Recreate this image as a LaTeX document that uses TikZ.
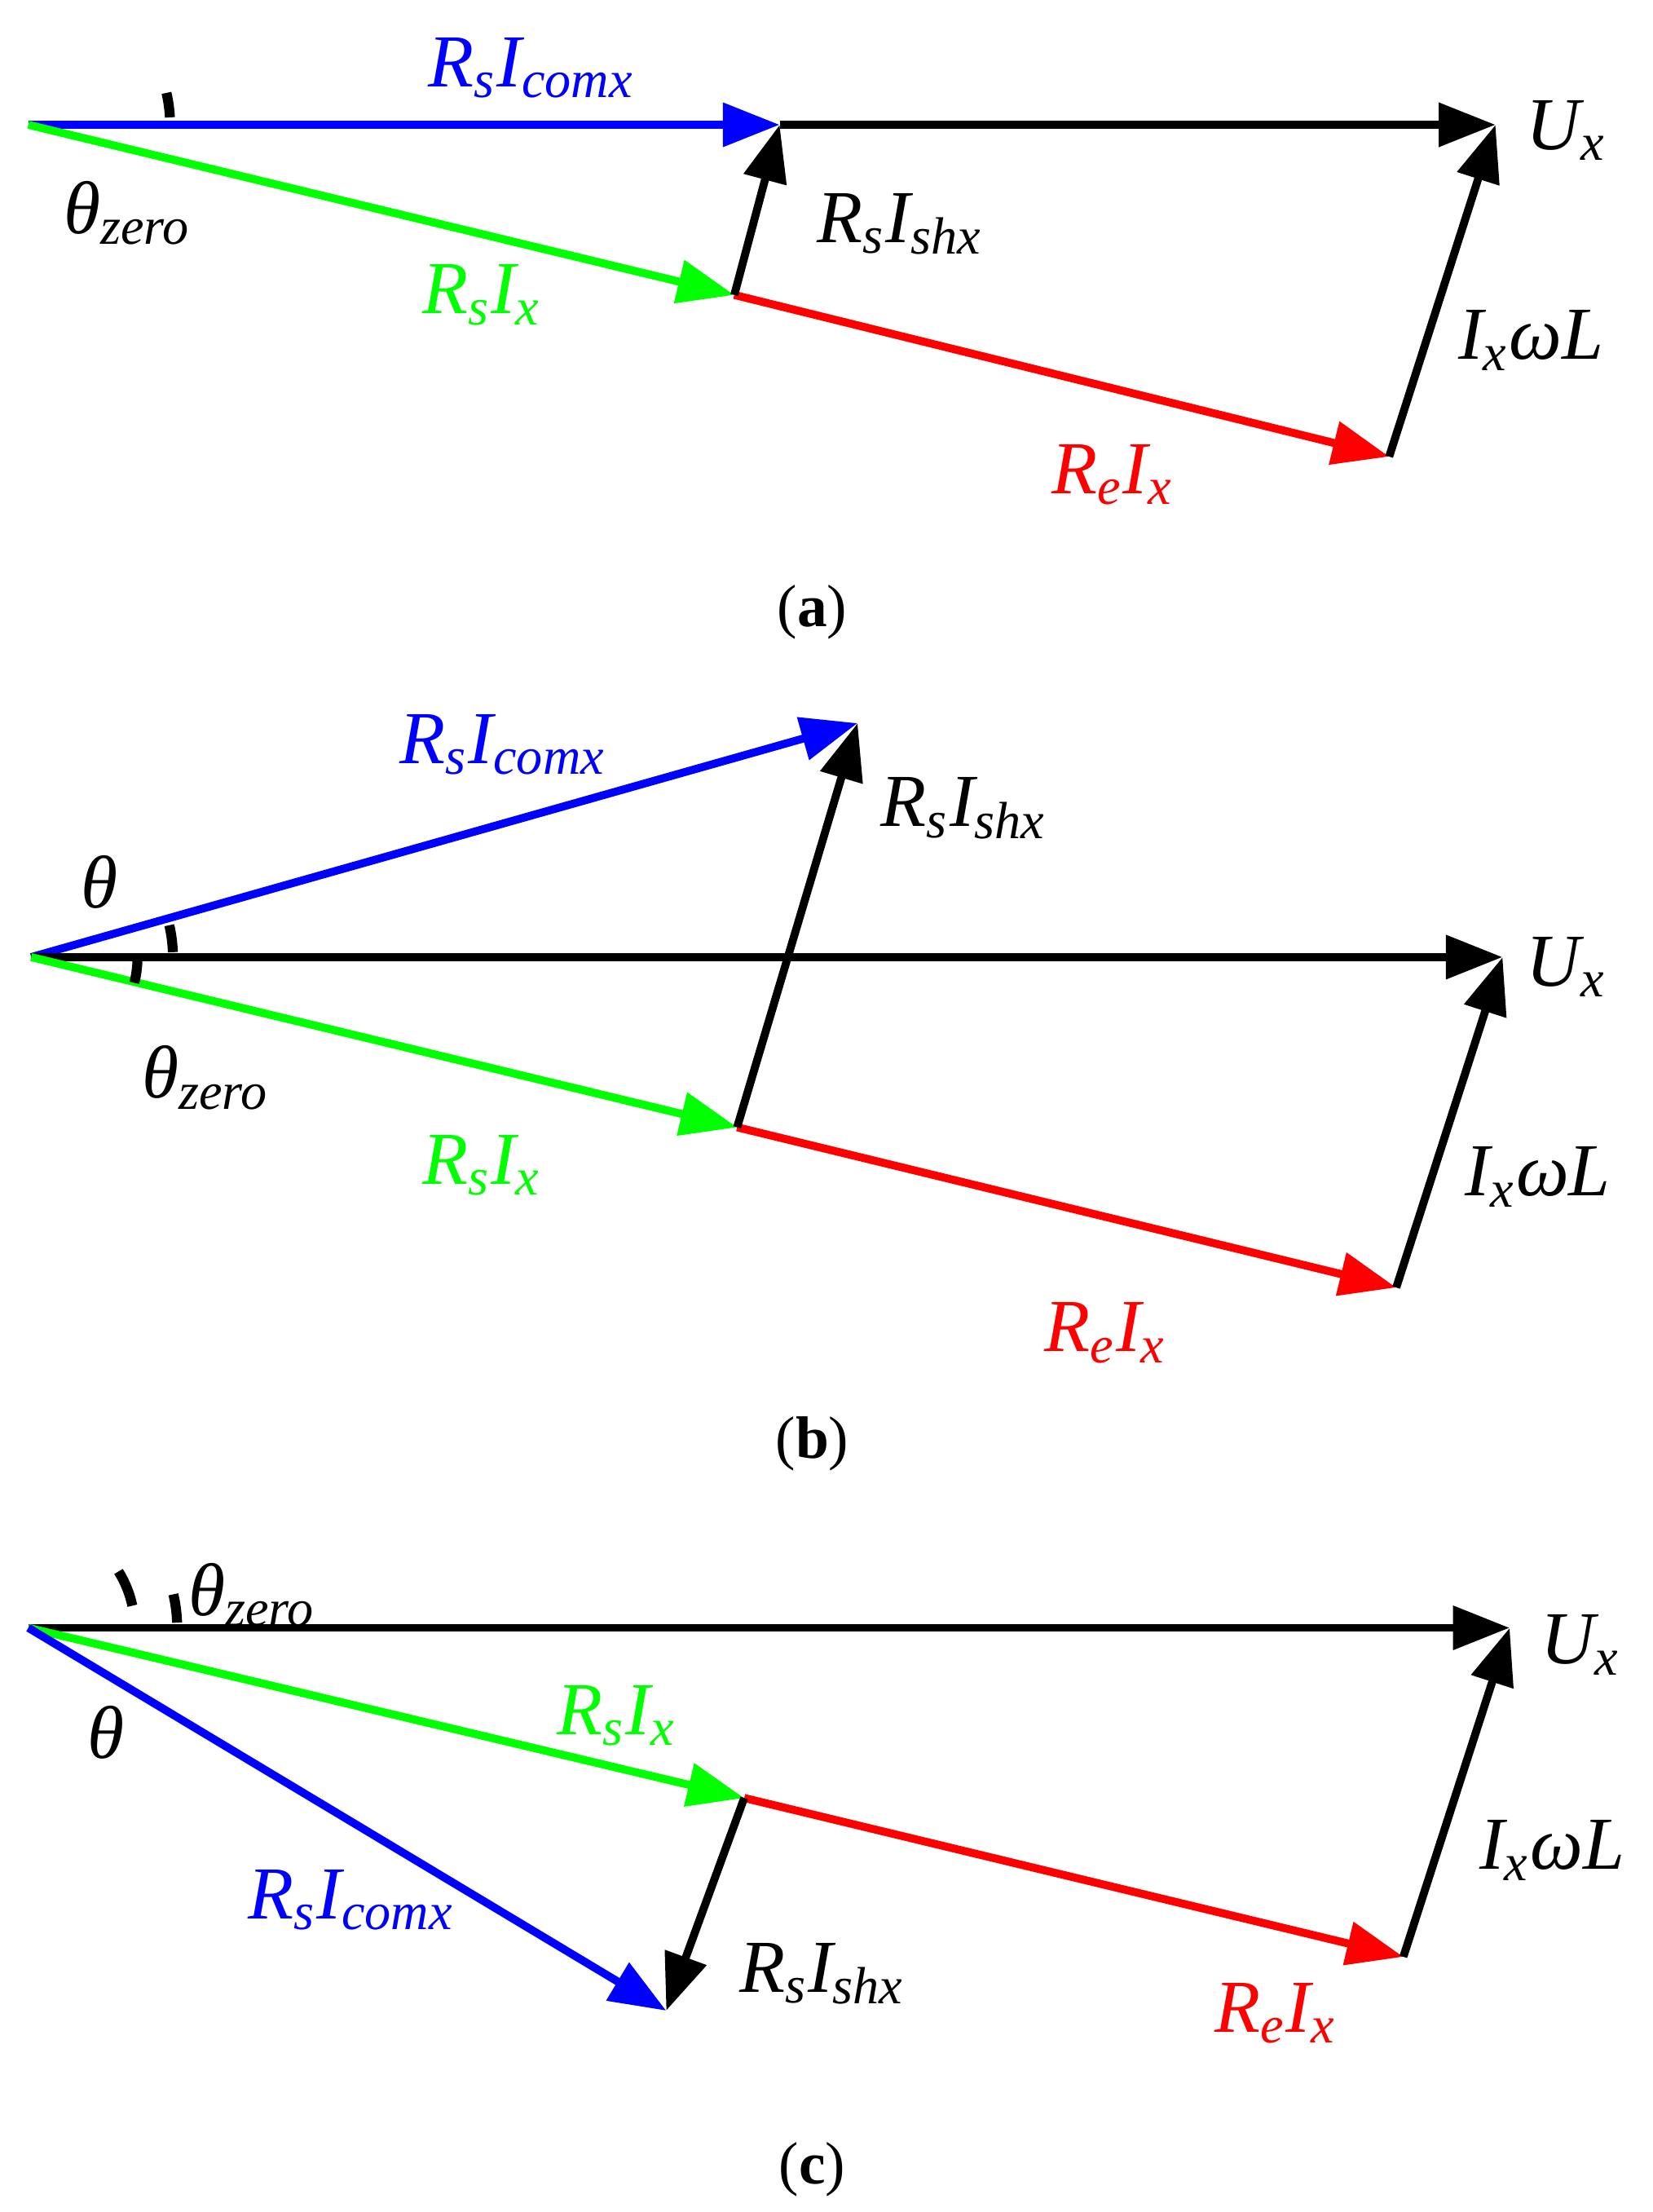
\documentclass[tikz,border=0pt]{standalone}
\usepackage{fontspec}
\setmainfont{Liberation Serif}
\usetikzlibrary{arrows.meta}
\begin{document}
\begin{tikzpicture}[x=0.01cm,y=-0.01cm,
 vec/.style={line width=1.6pt,-{Triangle[length=4mm,width=3mm]}},
 seg/.style={line width=1.6pt},
 ang/.style={line width=2pt},
 lab/.style={font=\fontsize{15}{17}\selectfont\itshape,inner sep=0pt},
 captxt/.style={font=\fontsize{12}{14}\selectfont,inner sep=0pt}]
\useasboundingbox (0,0) rectangle (1166,1560);
\definecolor{vgreen}{RGB}{0,255,0}
% ---------- (a)
\coordinate (aO) at (20,88); \coordinate (aA) at (550,88); \coordinate (aU) at (1055,88);
\coordinate (aG) at (518,208); \coordinate (aR) at (980,322);
\draw[vec,blue] (aO) -- (aA);
\draw[vec] (aA) -- (aU);
\draw[vec,vgreen] (aO) -- (aG);
\draw[vec,red] (aG) -- (aR);
\draw[vec] (aR) -- (aU);
\draw[vec] (aG) -- (aA);
\draw[ang] (aO) ++(-3:100) arc(-3:-13:100);
\node[lab,blue] (a1) at (375,48) {R\textsubscript{s}I\textsubscript{comx}};
\node[lab] (a2) at (1105,92) {U\textsubscript{x}};
\node[lab] (a3) at (635,158) {R\textsubscript{s}I\textsubscript{shx}};
\node[lab,vgreen] (a4) at (340,208) {R\textsubscript{s}I\textsubscript{x}};
\node[lab] (a5) at (1080,240) {I\textsubscript{x}ωL};
\node[lab,red] (a6) at (785,335) {R\textsubscript{e}I\textsubscript{x}};
\node[lab] (a7) at (90,150) {θ\textsubscript{zero}};
\node[captxt] (ac) at (573,432) {(\textbf{a})};
% ---------- (b)
\coordinate (bO) at (22,675); \coordinate (bA) at (605,510); \coordinate (bU) at (1060,675);
\coordinate (bG) at (520,795); \coordinate (bR) at (985,908);
\draw[vec,blue] (bO) -- (bA);
\draw[vec] (bO) -- (bU);
\draw[vec,vgreen] (bO) -- (bG);
\draw[vec,red] (bG) -- (bR);
\draw[vec] (bR) -- (bU);
\draw[vec] (bG) -- (bA);
\draw[ang] (bO) ++(14:75) arc(14:-2:75);
\draw[ang] (bO) ++(-2:100) arc(-2:-13:100);
\node[lab,blue] (b1) at (355,525) {R\textsubscript{s}I\textsubscript{comx}};
\node[lab] (b2) at (70,622) {θ};
\node[lab] (b3) at (145,760) {θ\textsubscript{zero}};
\node[lab] (b4) at (680,570) {R\textsubscript{s}I\textsubscript{shx}};
\node[lab] (b5) at (1105,682) {U\textsubscript{x}};
\node[lab,vgreen] (b6) at (340,822) {R\textsubscript{s}I\textsubscript{x}};
\node[lab] (b7) at (1085,830) {I\textsubscript{x}ωL};
\node[lab,red] (b8) at (780,940) {R\textsubscript{e}I\textsubscript{x}};
\node[captxt] (bc) at (573,1018) {(\textbf{b})};
% ---------- (c)
\coordinate (cO) at (20,1148); \coordinate (cU) at (1065,1148);
\coordinate (cG) at (525,1268); \coordinate (cR) at (990,1380); \coordinate (cB) at (470,1418);
\draw[vec] (cO) -- (cU);
\draw[vec,vgreen] (cO) -- (cG);
\draw[vec,red] (cG) -- (cR);
\draw[vec] (cR) -- (cU);
\draw[vec,blue] (cO) -- (cB);
\draw[vec] (cG) -- (cB);
\draw[ang] (cO) ++(-2:105) arc(-2:-13:105);
\draw[ang] (cO) ++(-12:75) arc(-12:-32:75);
\node[lab] (c1) at (178,1125) {θ\textsubscript{zero}};
\node[lab] (c2) at (1115,1160) {U\textsubscript{x}};
\node[lab,vgreen] (c3) at (435,1210) {R\textsubscript{s}I\textsubscript{x}};
\node[lab] (c4) at (75,1222) {θ};
\node[lab] (c5) at (1095,1305) {I\textsubscript{x}ωL};
\node[lab,blue] (c6) at (248,1340) {R\textsubscript{s}I\textsubscript{comx}};
\node[lab] (c7) at (580,1392) {R\textsubscript{s}I\textsubscript{shx}};
\node[lab,red] (c8) at (900,1420) {R\textsubscript{e}I\textsubscript{x}};
\node[captxt] (cc) at (573,1530) {(\textbf{c})};
\end{tikzpicture}
\end{document}
